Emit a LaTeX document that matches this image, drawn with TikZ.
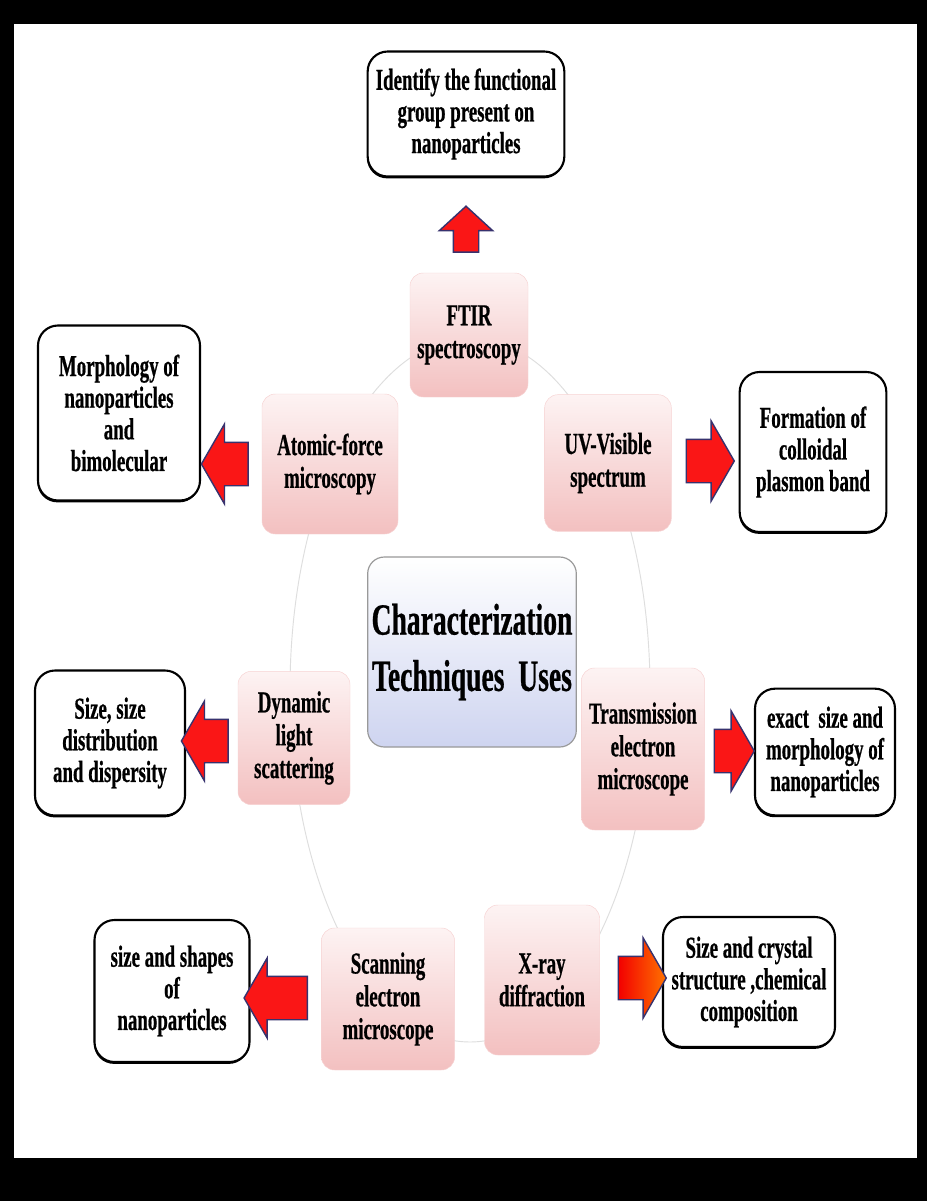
\documentclass[tikz,border=0pt]{standalone}
\usepackage{fontspec}
\setmainfont{Liberation Serif}[FakeStretch=0.62, BoldFeatures={FakeBold=0.6}]
\usetikzlibrary{shapes.arrows, shadows}
\definecolor{techtop}{RGB}{253,243,243}
\definecolor{techbot}{RGB}{243,192,192}
\definecolor{hubbot}{RGB}{206,212,240}
\definecolor{arrred}{RGB}{250,22,22}
\definecolor{arrline}{RGB}{55,50,110}
\definecolor{ringgray}{RGB}{222,222,222}
\tikzset{
    usebox/.style={rectangle, draw=black, fill=white, line width=1.8pt, rounded corners=6mm, align=center, font=\fontsize{26}{27}\selectfont\bfseries, drop shadow={shadow xshift=-0.5pt, shadow yshift=-1.6pt, fill=black, opacity=1}},
    technode/.style={rectangle, rounded corners=4mm, top color=techtop, bottom color=techbot, draw=techbot!70, align=center, font=\fontsize{26}{28}\selectfont\bfseries},
    hubnode/.style={rectangle, rounded corners=5mm, top color=white, bottom color=hubbot, draw=gray!80, line width=1pt, align=center, font=\fontsize{38}{48}\selectfont\bfseries},
    arr/.style={single arrow, draw=arrline, fill=arrred, line width=1.2pt, inner xsep=0pt, inner ysep=6.3mm, single arrow tip angle=120, single arrow head extend=5.5mm, minimum height=14mm, minimum width=24mm},
}
\begin{document}
\begin{tikzpicture}[x=0.3mm, y=-0.3mm]
    \useasboundingbox (0,0) rectangle (927,1201);
    \fill[black] (0,0) rectangle (927,1201);
    \fill[white] (14,24) rectangle (917,1158);
    \draw[ringgray, line width=0.8pt] (470,690) ellipse [x radius=180, y radius=352];

    \node[hubnode, minimum width=58.5mm, minimum height=57mm] (hub) at (472,652) {Characterization\\Techniques~ Uses};

    \node[technode, minimum width=35.4mm, minimum height=37.2mm] (ftir) at (469,335) {FTIR\\spectroscopy};
    \node[technode, minimum width=40.8mm, minimum height=42mm] (afm) at (330,464) {Atomic-force\\microscopy};
    \node[technode, minimum width=38mm, minimum height=41mm] (uv) at (608,463) {UV-Visible\\spectrum};
    \node[technode, minimum width=33.6mm, minimum height=40mm] (dls) at (294,738) {Dynamic\\light\\scattering};
    \node[technode, minimum width=37mm, minimum height=48.6mm] (tem) at (643,749) {Transmission\\electron\\microscope};
    \node[technode, minimum width=40mm, minimum height=42.6mm] (sem) at (388,999) {Scanning\\electron\\microscope};
    \node[technode, minimum width=34.5mm, minimum height=45mm] (xrd) at (542,980) {X-ray\\diffraction};

    \node[usebox, minimum width=59mm, minimum height=37.5mm] (ftiruse) at (466,114) {Identify the functional\\group present on\\nanoparticles};
    \node[usebox, minimum width=48.6mm, minimum height=52.5mm] (afmuse) at (119,413) {Morphology of\\nanoparticles\\and\\bimolecular};
    \node[usebox, minimum width=44mm, minimum height=48mm] (uvuse) at (813,452) {Formation of\\colloidal\\plasmon band};
    \node[usebox, minimum width=45mm, minimum height=43.5mm] (dlsuse) at (110,743) {Size, size\\distribution\\and dispersity};
    \node[usebox, minimum width=42mm, minimum height=38mm] (temuse) at (825,752) {exact~ size and\\morphology of\\nanoparticles};
    \node[usebox, minimum width=46.5mm, minimum height=42.6mm] (semuse) at (172,991) {size and shapes\\of\\nanoparticles};
    \node[usebox, minimum width=51.6mm, minimum height=39mm] (xrduse) at (749,982) {Size and crystal\\structure ,chemical\\composition};

    \node[arr, shape border rotate=90, minimum height=13.8mm, minimum width=15.6mm, inner xsep=3.6mm, inner ysep=0pt, single arrow head extend=4.2mm, single arrow tip angle=95] (ftirarr) at (466,235) {};
    \node[arr, shape border rotate=180] (afmarr) at (231,464) {};
    \node[arr, minimum height=14.4mm] (uvarr) at (704,461) {};
    \node[arr, shape border rotate=180] (dlsarr) at (211,741) {};
    \node[arr, minimum height=12mm, minimum width=23mm] (temarr) at (728,751) {};
    \node[arr, shape border rotate=180, minimum height=19mm, minimum width=22.5mm] (semarr) at (282,998) {};
    \node[arr, minimum height=14.4mm, minimum width=22.5mm, left color=red!95!black, right color=orange!90!red] (xrdarr) at (636,978) {};
\end{tikzpicture}
\end{document}
